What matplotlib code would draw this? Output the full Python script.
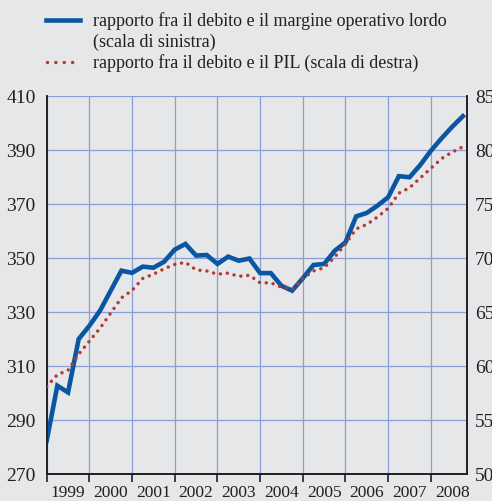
import numpy as np
import matplotlib.pyplot as plt
from matplotlib.lines import Line2D

plt.rcParams['font.family'] = ['Liberation Serif', 'DejaVu Serif']

years = list(range(1999, 2009))
quarters = [1, 2, 3, 4]

# rapporto debito / margine operativo lordo (scala di sinistra)
debito_mol = [282.3, 302.7, 300.2, 320.0, 324.9, 330.5, 337.9, 345.3,
              344.5, 346.8, 346.4, 348.6, 353.1, 355.2, 350.9, 351.1,
              347.8, 350.5, 349.0, 349.8, 344.4, 344.4, 339.7, 337.9,
              342.5, 347.4, 347.8, 352.7, 355.8, 365.4, 366.7, 369.4,
              372.5, 380.3, 379.9, 384.4, 389.7, 394.3, 398.6, 402.5]

# rapporto debito / PIL (scala di destra)
debito_pil = [58.1, 59.2, 59.6, 61.1, 62.3, 63.5, 64.9, 66.3,
              67.0, 68.1, 68.5, 69.0, 69.4, 69.6, 68.9, 68.8,
              68.5, 68.6, 68.3, 68.4, 67.7, 67.7, 67.3, 67.1,
              68.1, 68.8, 69.1, 70.1, 71.3, 72.7, 73.1, 73.8,
              74.6, 76.0, 76.5, 77.4, 78.3, 79.2, 79.8, 80.3]

left_ticks = list(range(270, 411, 20))
right_ticks = list(range(50, 86, 5))

x = np.array([y + (q - 1) / 4 for y in years for q in quarters])

bg = '#e6e7e9'
grid_c = '#8c9ed6'
blue = '#0a56a2'
red = '#b23a32'
txt = '#231f20'

fig = plt.figure(figsize=(4.92, 5.02), dpi=100, facecolor=bg)
ax = fig.add_axes([0.0949, 0.0538, 0.8537, 0.753])
ax.set_facecolor(bg)
ax2 = ax.twinx()

ax.plot(x, debito_mol, color=blue, lw=3.3, solid_joinstyle='miter', zorder=3)
ax2.plot(x, debito_pil, color=red, lw=2.5, linestyle=(0, (0.01, 2.0)),
         dash_capstyle='round', zorder=4)

ax.set_xlim(1999, 2008.84)
ax.set_ylim(270, 410)
ax2.set_ylim(50, 85)
ax.set_yticks(left_ticks)
ax2.set_yticks(right_ticks)

ax.set_xticks(years)
ax.set_xticklabels([])
ax.set_xticks([y + 0.5 for y in years], minor=True)
ax.set_xticklabels([str(y) for y in years], minor=True)

ax.set_axisbelow(True)
ax.grid(True, which='major', color=grid_c, lw=0.9)

ax.tick_params(axis='y', length=0, labelsize=14, labelcolor=txt, pad=8)
ax2.tick_params(axis='y', length=0, labelsize=14, labelcolor=txt, pad=6)
ax.tick_params(axis='x', which='major', length=6, width=1.2, color=txt, direction='out')
ax.tick_params(axis='x', which='minor', length=0, labelsize=12.5, labelcolor=txt, pad=7.5)

for a in (ax, ax2):
    a.spines['top'].set_visible(False)
    for s in ('left', 'right', 'bottom'):
        a.spines[s].set_color(txt)
        a.spines[s].set_linewidth(1.2)

# legend
W, H = 492, 502
fig.add_artist(Line2D([46 / W, 80 / W], [1 - 21 / H, 1 - 21 / H],
                      color=blue, lw=3.3, transform=fig.transFigure))
fig.add_artist(Line2D([47 / W, 80 / W], [1 - 63 / H, 1 - 63 / H],
                      color=red, lw=2.5, linestyle=(0, (0.01, 2.4)),
                      dash_capstyle='round', transform=fig.transFigure))
fig.text(93 / W, 1 - 21 / H, 'rapporto fra il debito e il margine operativo lordo',
         fontsize=13, color=txt, va='center', ha='left')
fig.text(93 / W, 1 - 42 / H, '(scala di sinistra)',
         fontsize=13, color=txt, va='center', ha='left')
fig.text(93 / W, 1 - 63 / H, 'rapporto fra il debito e il PIL (scala di destra)',
         fontsize=13, color=txt, va='center', ha='left')

fig.savefig('out.png', dpi=100, facecolor=bg)
